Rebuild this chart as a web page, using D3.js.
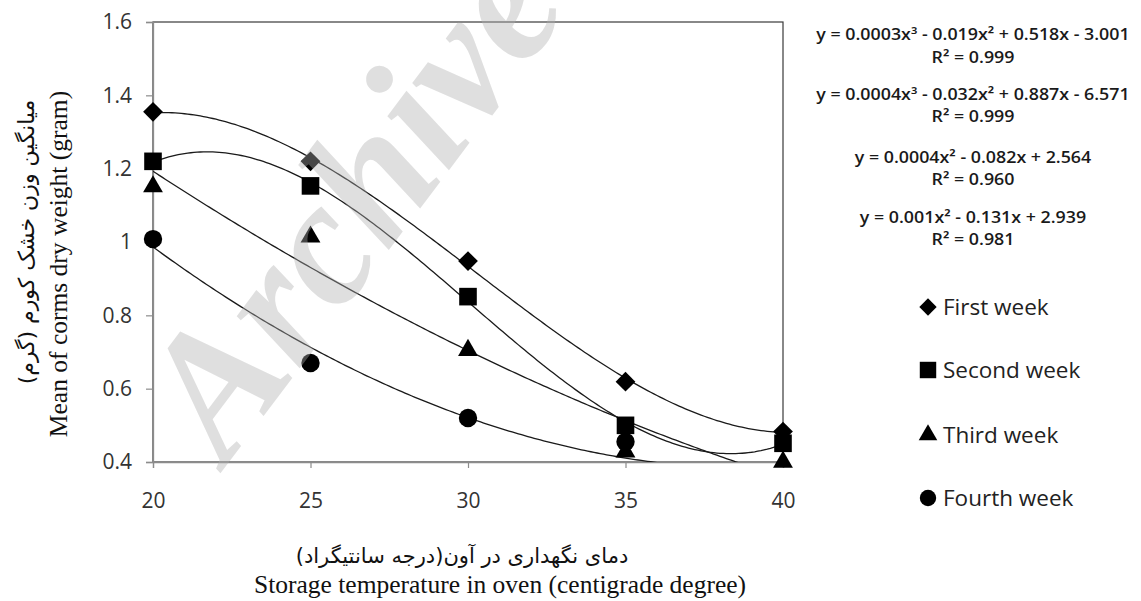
<!DOCTYPE html>
<html>
<head>
<meta charset="utf-8">
<script src="https://cdn.jsdelivr.net/npm/d3@7"></script>
<style>
  html, body { margin: 0; padding: 0; background: #fff; }
  svg { display: block; }
</style>
</head>
<body>
<svg id="chart" width="1141" height="601"></svg>
<script>
// ---------- DATA ----------
const temperatures = [20, 25, 30, 35, 40];
const seriesNames = ["First week", "Second week", "Third week", "Fourth week"];
const firstWeek  = [1.355, 1.22, 0.948, 0.619, 0.483];
const secondWeek = [1.22, 1.153, 0.851, 0.50, 0.451];
const thirdWeek  = [1.151, 1.014, 0.705, 0.428, 0.40];
const fourthWeek = [1.008, 0.67, 0.52, 0.455, 0.36];
const trendDegrees = [3, 3, 2, 2];
const yTicks = [0.4, 0.6, 0.8, 1.0, 1.2, 1.4, 1.6];
const yTickLabels = ["0.4", "0.6", "0.8", "1", "1.2", "1.4", "1.6"];
const xTicks = [20, 25, 30, 35, 40];
const xTickLabels = ["20", "25", "30", "35", "40"];
const equations = [
  ["y = 0.0003x³ - 0.019x² + 0.518x - 3.001", "R² = 0.999"],
  ["y = 0.0004x³ - 0.032x² + 0.887x - 6.571", "R² = 0.999"],
  ["y = 0.0004x² - 0.082x + 2.564", "R² = 0.960"],
  ["y = 0.001x² - 0.131x + 2.939", "R² = 0.981"]
];
const yTitleFa = "میانگین وزن خشک کورم (گرم)";
const yTitleEn = "Mean of corms dry weight (gram)";
const xTitleFa = "دمای نگهداری در آون(درجه سانتیگراد)";
const xTitleEn = "Storage temperature in oven (centigrade degree)";
const watermark = "Archive";

const allSeries = [firstWeek, secondWeek, thirdWeek, fourthWeek];

// ---------- LAYOUT ----------
const svg = d3.select("#chart");
const plot = { left: 153, right: 783, top: 22, bottom: 462 };
const x = d3.scaleLinear().domain([20, 40]).range([plot.left, plot.right]);
const y = d3.scaleLinear().domain([0.4, 1.6]).range([plot.bottom, plot.top]);

const tickFont = "'Open Sans', sans-serif";

// least squares polynomial fit (trendline, as the spreadsheet computes it)
function polyfit(xs, ys, deg) {
  const n = deg + 1;
  const c = 30, s = 10;
  const A = Array.from({length: n}, () => new Array(n + 1).fill(0));
  xs.forEach((xv, k) => {
    const t = (xv - c) / s;
    for (let i = 0; i < n; i++) {
      for (let j = 0; j < n; j++) A[i][j] += Math.pow(t, i + j);
      A[i][n] += Math.pow(t, i) * ys[k];
    }
  });
  for (let i = 0; i < n; i++) {
    let p = i;
    for (let r = i + 1; r < n; r++) if (Math.abs(A[r][i]) > Math.abs(A[p][i])) p = r;
    [A[i], A[p]] = [A[p], A[i]];
    for (let r = 0; r < n; r++) {
      if (r === i) continue;
      const f = A[r][i] / A[i][i];
      for (let j = i; j <= n; j++) A[r][j] -= f * A[i][j];
    }
  }
  const coef = A.map((row, i) => row[n] / row[i]);
  return xv => { const t = (xv - c) / s; return coef.reduce((acc, a, i) => acc + a * Math.pow(t, i), 0); };
}

// clip
svg.append("defs").append("clipPath").attr("id", "plotclip")
  .append("rect").attr("x", plot.left).attr("y", plot.top)
  .attr("width", plot.right - plot.left).attr("height", plot.bottom - plot.top);

// plot area border (top / right)
svg.append("rect")
  .attr("x", x(20)).attr("y", y(1.6))
  .attr("width", x(40) - x(20)).attr("height", y(0.4) - y(1.6))
  .attr("fill", "none").attr("stroke", "#3a3a3a").attr("stroke-width", 1.2);

// axes
const yAxis = d3.axisLeft(y).tickValues(yTicks)
  .tickFormat((d, i) => yTickLabels[i]).tickSize(7).tickPadding(14);
const gy = svg.append("g").attr("transform", `translate(${plot.left},0)`).call(yAxis);
const xAxis = d3.axisBottom(x).tickValues(xTicks)
  .tickFormat((d, i) => xTickLabels[i]).tickSize(6).tickPadding(25);
const gx = svg.append("g").attr("transform", `translate(0,${plot.bottom})`).call(xAxis);
[gx, gy].forEach(g => {
  g.select(".domain").attr("stroke", "#8c8c8c").attr("stroke-width", 1.3);
  g.selectAll(".tick line").attr("stroke", "#8c8c8c").attr("stroke-width", 1.2);
  g.selectAll(".tick text").attr("fill", "#333").style("font-family", tickFont).style("font-size", "21px");
});

// trendlines
const curveX = d3.range(20, 40.0001, 0.1);
const curves = svg.append("g").attr("clip-path", "url(#plotclip)");
allSeries.forEach((vals, si) => {
  const f = polyfit(temperatures, vals, trendDegrees[si]);
  curves.append("path")
    .datum(curveX)
    .attr("d", d3.line().x(d => x(d)).y(d => y(f(d))))
    .attr("fill", "none").attr("stroke", "#1a1a1a").attr("stroke-width", 1.3);
});

// markers
const markerDefs = [
  { type: d3.symbolSquare, size: 195, rot: 45 },
  { type: d3.symbolSquare, size: 310, rot: 0 },
  { type: d3.symbolTriangle, size: 170, rot: 0 },
  { type: d3.symbolCircle, size: 265, rot: 0 }
];
const legendMarkerSizes = [150, 270, 150, 210];
const marks = svg.append("g");
allSeries.forEach((vals, si) => {
  const m = markerDefs[si];
  const pts = temperatures.map((t, i) => ({ t, v: vals[i] }))
    .filter(p => p.v >= y.domain()[0] && p.v <= y.domain()[1]);
  marks.selectAll(null).data(pts).enter().append("path")
    .attr("d", d3.symbol().type(m.type).size(m.size))
    .attr("transform", d => `translate(${x(d.t)},${y(d.v)}) rotate(${m.rot})`)
    .attr("fill", "#000");
});

// watermark
svg.append("text")
  .attr("transform", "translate(226,466) rotate(-53)")
  .attr("font-family", "'Liberation Serif', serif")
  .attr("font-weight", "bold").attr("font-style", "italic")
  .attr("font-size", 178)
  .attr("fill", "#aeaeae").attr("fill-opacity", 0.4)
  .text(watermark);

// equations (wide, short glyphs like the original's font)
const eqG = svg.append("g").attr("font-family", tickFont).attr("font-weight", 600)
  .attr("font-size", 15.5).attr("fill", "#1a1a1a").attr("text-anchor", "middle");
const eqY = [[35, 58], [95, 117], [158, 180], [218, 240]];
equations.forEach((eq, i) => {
  eq.forEach((line, j) => {
    eqG.append("text")
      .attr("transform", `translate(973,${eqY[i][j]}) scale(1.15,1)`)
      .attr("dy", "0.35em").text(line);
  });
});

// legend
const legY = [307, 370, 435, 498];
const leg = svg.append("g");
seriesNames.forEach((name, i) => {
  const m = markerDefs[i];
  leg.append("path")
    .attr("d", d3.symbol().type(m.type).size(legendMarkerSizes[i]))
    .attr("transform", `translate(928,${legY[i]}) rotate(${m.rot})`)
    .attr("fill", "#000");
  leg.append("text").attr("x", 943).attr("y", legY[i]).attr("dy", "0.36em")
    .attr("font-family", tickFont).attr("font-size", 22.5).attr("fill", "#222")
    .text(name);
});

// axis titles
svg.append("text")
  .attr("transform", "translate(462,563)")
  .attr("text-anchor", "middle").attr("direction", "rtl")
  .attr("font-family", "'DejaVu Sans', sans-serif").attr("font-size", 21).attr("fill", "#111")
  .text(xTitleFa);
svg.append("text")
  .attr("transform", "translate(500,593)")
  .attr("text-anchor", "middle")
  .attr("font-family", "'Liberation Serif', serif").attr("font-size", 25.5).attr("fill", "#111")
  .text(xTitleEn);
svg.append("text")
  .attr("transform", "translate(34,242) rotate(-90)")
  .attr("text-anchor", "middle").attr("direction", "rtl")
  .attr("font-family", "'DejaVu Sans', sans-serif").attr("font-size", 22).attr("fill", "#111")
  .text(yTitleFa);
svg.append("text")
  .attr("transform", "translate(67,264) rotate(-90)")
  .attr("text-anchor", "middle")
  .attr("font-family", "'Liberation Serif', serif").attr("font-size", 25.5).attr("fill", "#111")
  .text(yTitleEn);
</script>
</body>
</html>
